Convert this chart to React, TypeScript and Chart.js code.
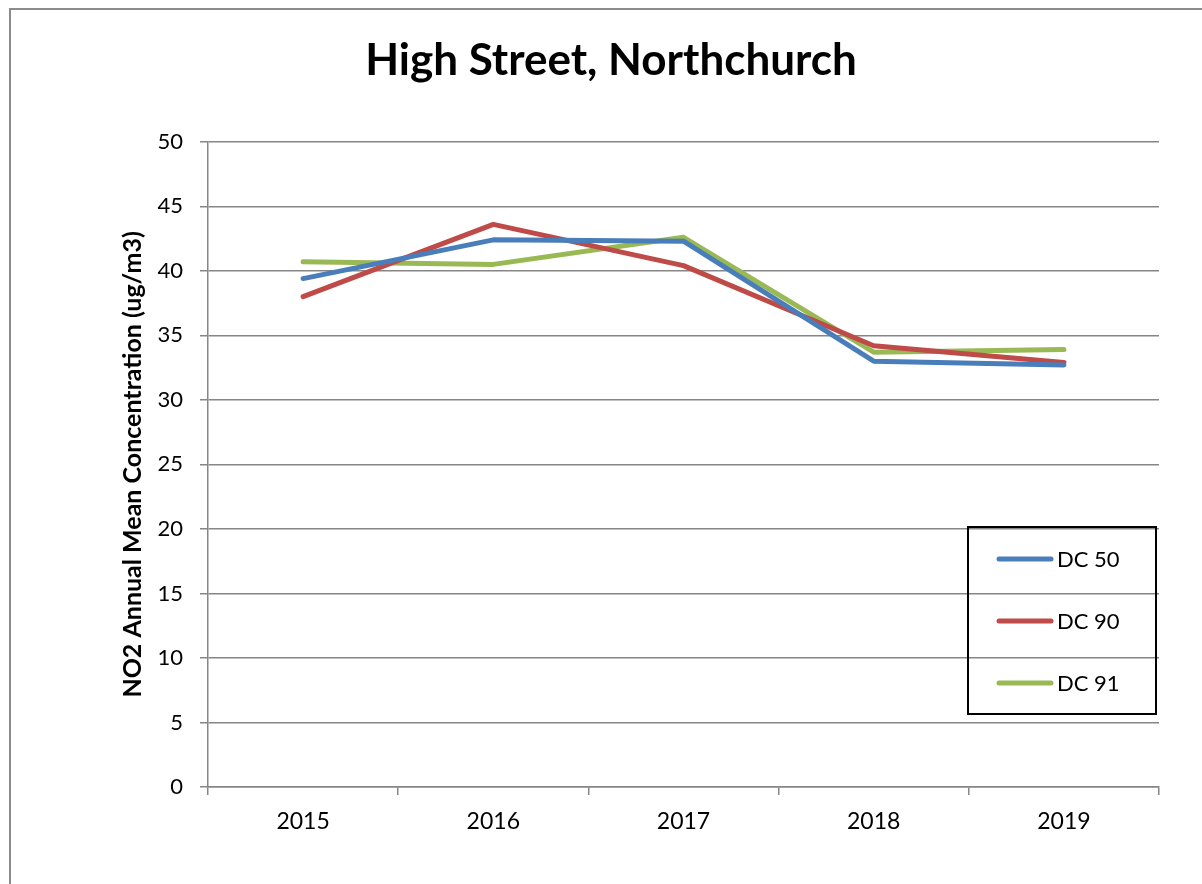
import React, { useEffect, useRef } from "react";
import { Chart, registerables } from "chart.js";

Chart.register(...registerables);

const categories = ["2015", "2016", "2017", "2018", "2019"];
const dc50 = [39.4, 42.4, 42.3, 33.0, 32.7];
const dc90 = [38.0, 43.6, 40.4, 34.2, 32.9];
const dc91 = [40.7, 40.5, 42.6, 33.7, 33.9];
const seriesNames = ["DC 50", "DC 90", "DC 91"];
const seriesColors = ["#4A7EBB", "#BE4B48", "#98B954"];

const FONT = "Lato, 'Open Sans', sans-serif";

const boxLegend = {
  id: "boxLegend",
  afterDatasetsDraw(chart: any) {
    const ctx = chart.ctx;
    const left = 968;
    const top = 527;
    const w = 188;
    const h = 187;
    ctx.save();
    ctx.strokeStyle = "#000";
    ctx.lineWidth = 2;
    ctx.strokeRect(left, top, w, h);
    ctx.font = `22px ${FONT}`;
    ctx.textBaseline = "middle";
    ctx.fillStyle = "#000";
    chart.data.datasets.forEach((ds: any, i: number) => {
      const y = 559 + i * 62;
      ctx.beginPath();
      ctx.strokeStyle = ds.borderColor;
      ctx.lineWidth = 5;
      ctx.lineCap = "round";
      ctx.moveTo(999, y);
      ctx.lineTo(1051, y);
      ctx.stroke();
      ctx.fillText(ds.label, 1057, y + 1);
    });
    ctx.restore();
  },
};

export default function App() {
  const ref = useRef<HTMLCanvasElement>(null);
  useEffect(() => {
    if (!ref.current) return;
    const data = [dc50, dc90, dc91];
    const chart = new Chart(ref.current, {
      type: "line",
      data: {
        labels: categories,
        datasets: seriesNames.map((name, i) => ({
          label: name,
          data: data[i],
          borderColor: seriesColors[i],
          backgroundColor: seriesColors[i],
          borderWidth: 5,
          pointRadius: 0,
          tension: 0,
          borderCapStyle: "round",
          borderJoinStyle: "round",
        })),
      },
      plugins: [boxLegend],
      options: {
        animation: false,
        responsive: false,
        maintainAspectRatio: false,
        layout: { padding: { left: 63, right: 43, top: 0, bottom: 0 } },
        plugins: {
          legend: { display: false },
          tooltip: { enabled: false },
          title: {
            display: true,
            text: "High Street, Northchurch",
            color: "#000",
            font: { family: FONT, size: 44, weight: "bold", lineHeight: 1.2 },
            padding: { top: 34, bottom: 55 },
          },
        },
        scales: {
          x: {
            type: "category",
            offset: true,
            grid: {
              offset: true,
              drawOnChartArea: false,
              drawTicks: true,
              tickLength: 8,
              color: "#868686",
              lineWidth: 1.5,
            },
            border: { display: true, color: "#868686", width: 1.5 },
            ticks: {
              color: "#000",
              font: { family: FONT, size: 23 },
              padding: 13,
              maxRotation: 0,
            },
            afterFit(scale: any) {
              scale.height = 97;
            },
          },
          y: {
            min: 0,
            max: 50,
            ticks: {
              stepSize: 5,
              color: "#000",
              font: { family: FONT, size: 22 },
              padding: 17,
            },
            grid: {
              color: "#868686",
              lineWidth: 1.5,
              tickLength: 8,
            },
            border: { display: true, color: "#868686", width: 1.5 },
            title: {
              display: true,
              text: "NO2 Annual Mean Concentration (ug/m3)",
              color: "#000",
              font: { family: FONT, size: 25, weight: "bold", lineHeight: 1.2 },
              padding: { top: 55, bottom: 0 },
            },
            afterFit(scale: any) {
              scale.width = 145;
            },
          },
        },
      },
    });
    return () => chart.destroy();
  }, []);

  return (
    <div
      style={{
        position: "fixed",
        left: 0,
        top: 0,
        width: 1202,
        height: 884,
        overflow: "hidden",
        background: "#fff",
      }}
    >
      <div
        style={{
          position: "absolute",
          left: 9,
          top: 8,
          width: 1400,
          height: 1200,
          border: "2px solid #8c8c8c",
        }}
      />
      <canvas
        ref={ref}
        width={1202}
        height={884}
        style={{ position: "absolute", left: 0, top: 0, width: 1202, height: 884 }}
      />
    </div>
  );
}
